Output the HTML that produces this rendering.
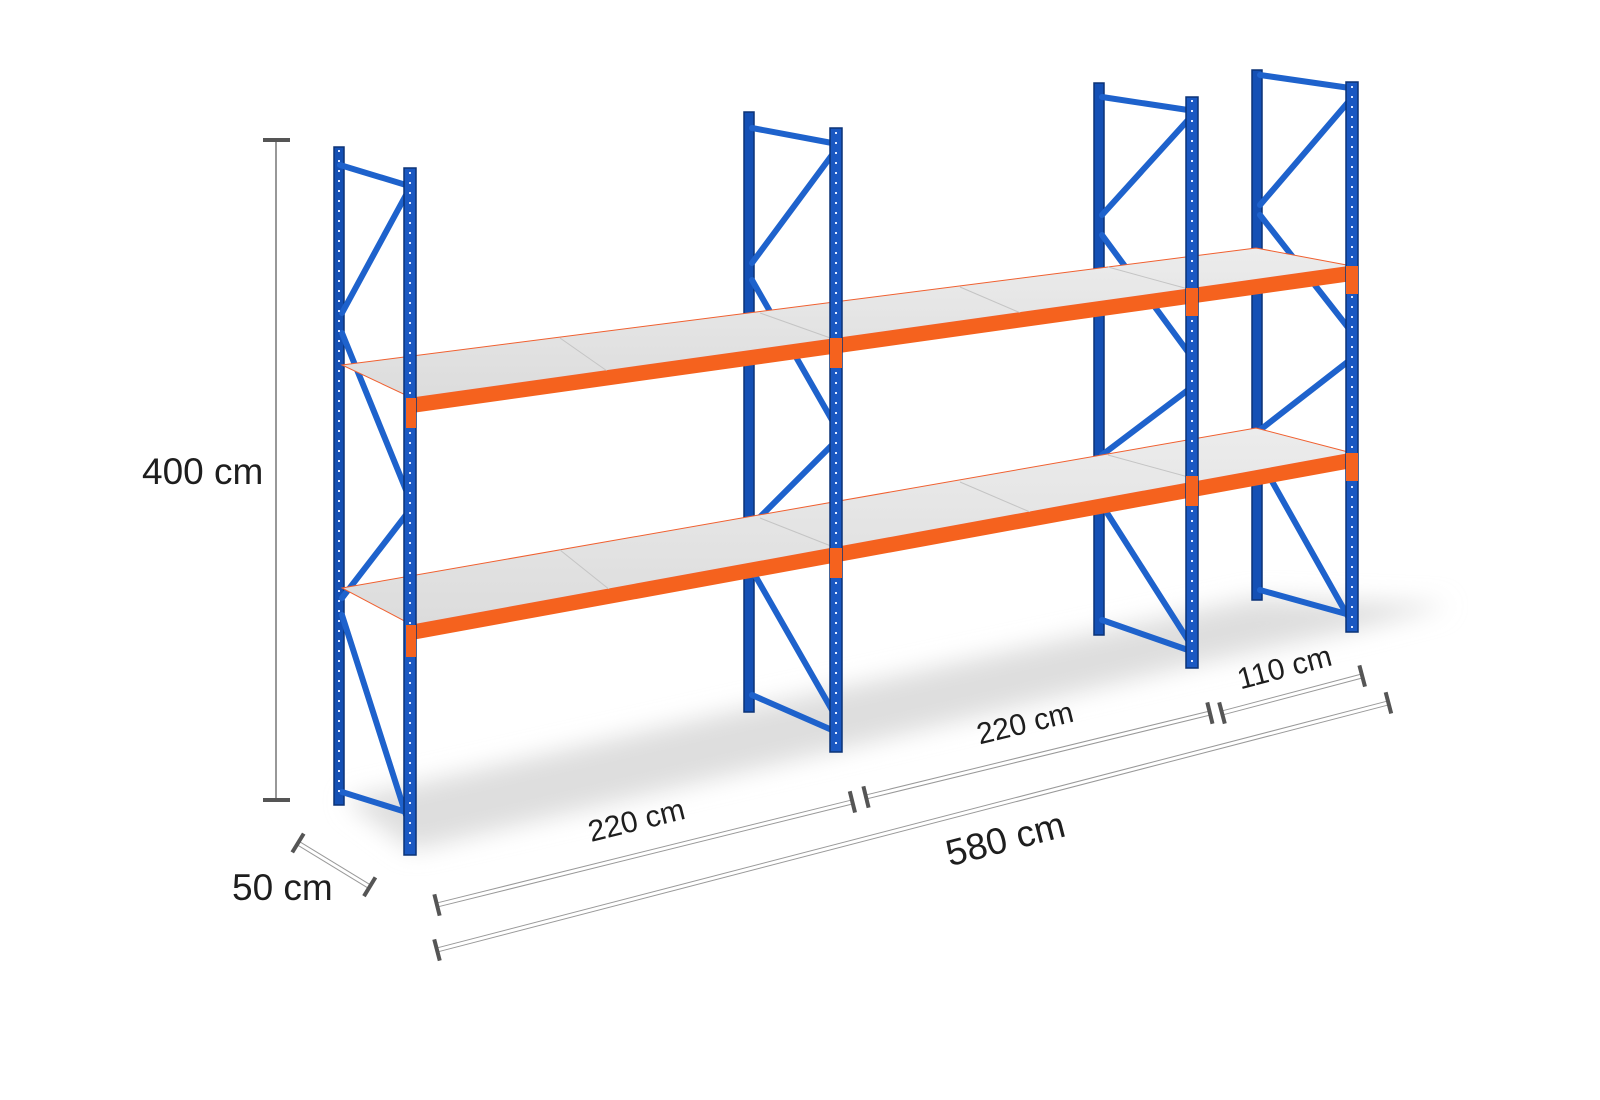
<!DOCTYPE html>
<html><head><meta charset="utf-8"><style>
html,body{margin:0;padding:0;background:#fff;}
svg{display:block;}
text{font-family:"Liberation Sans",sans-serif;fill:#1e1e1e;}
</style></head><body>
<svg width="1600" height="1100" viewBox="0 0 1600 1100" xmlns="http://www.w3.org/2000/svg">
<defs>
<filter id="bl" x="-10%" y="-30%" width="120%" height="160%"><feGaussianBlur stdDeviation="12"/></filter>
<linearGradient id="deck" x1="0" y1="0" x2="0" y2="1"><stop offset="0" stop-color="#ececec"/><stop offset="1" stop-color="#dcdcdc"/></linearGradient>
</defs>
<polygon points="345,800 412,850 836,750 1192,665 1352,630 1450,605 1256,598 1098,632 748,708" fill="#dedede" filter="url(#bl)"/>

<g fill="#1450b5" stroke="#0b3276" stroke-width="1.5">
<rect x="334" y="147" width="10" height="658"/>
<rect x="744" y="112" width="10" height="600"/>
<rect x="1094" y="83" width="10" height="552"/>
<rect x="1252" y="70" width="10" height="530"/>
</g>

<g stroke="#1e62cc" stroke-width="6" stroke-linecap="round" fill="none">
<path d="M340,165 L406,185 M406,195 L342,313 M342,333 L406,490 M406,515 L342,598 M342,615 L406,815 M342,792 L406,812"/>
<path d="M752,128 L832,143 M832,155 L752,263 M752,280 L832,420 M832,445 L752,525 M752,570 L832,710 M752,695 L832,730"/>
<path d="M1102,97 L1188,110 M1188,120 L1102,215 M1102,235 L1188,352 M1188,390 L1102,455 M1102,505 L1188,640 M1102,620 L1188,650"/>
<path d="M1260,75 L1350,88 M1350,100 L1260,205 M1260,215 L1350,330 M1350,360 L1260,430 M1260,460 L1350,620 M1260,590 L1350,615"/>
</g>

<polygon points="342,365 1256,248 1352,266 412,398" fill="url(#deck)" stroke="#f06030" stroke-width="1"/>
<polygon points="342,588 1256,428 1352,453 412,625" fill="url(#deck)" stroke="#f06030" stroke-width="1"/>
<g stroke="#c4c4c4" stroke-width="1">
<line x1="560" y1="338" x2="610" y2="373"/><line x1="760" y1="313" x2="836" y2="340"/><line x1="960" y1="287" x2="1030" y2="317"/><line x1="1108" y1="267" x2="1192" y2="290"/>
<line x1="560" y1="550" x2="610" y2="590"/><line x1="760" y1="518" x2="836" y2="548"/><line x1="960" y1="482" x2="1030" y2="512"/><line x1="1108" y1="455" x2="1192" y2="478"/>
</g>

<polygon points="412,398 1352,266 1352,281 412,413" fill="#f5621e"/>
<polygon points="412,625 1352,453 1352,468 412,640" fill="#f5621e"/>

<g fill="#1a58c2" stroke="#0b3276" stroke-width="1.5">
<rect x="404" y="168" width="12" height="687"/>
<rect x="830" y="128" width="12" height="624"/>
<rect x="1186" y="97" width="12" height="571"/>
<rect x="1346" y="82" width="12" height="550"/>
</g>
<g stroke="#dfe8ff" stroke-width="2" stroke-dasharray="2 8">
<line x1="339" y1="150" x2="339" y2="800"/>
<line x1="410" y1="172" x2="410" y2="850"/>
<line x1="836" y1="132" x2="836" y2="748"/>
<line x1="1192" y1="100" x2="1192" y2="664"/>
<line x1="1352" y1="86" x2="1352" y2="628"/>
</g>
<g fill="#f5621e">
<rect x="406" y="398" width="10" height="30"/><rect x="830" y="338" width="12" height="30"/><rect x="1186" y="288" width="12" height="28"/><rect x="1346" y="266" width="12" height="28"/>
<rect x="406" y="625" width="10" height="32"/><rect x="830" y="548" width="12" height="30"/><rect x="1186" y="476" width="12" height="30"/><rect x="1346" y="453" width="12" height="28"/>
</g>

<g stroke="#777">
<line x1="276" y1="140" x2="276" y2="800" stroke-width="1.5"/>
<line x1="263" y1="140" x2="290" y2="140" stroke="#555" stroke-width="4"/>
<line x1="263" y1="800" x2="290" y2="800" stroke="#555" stroke-width="4"/>
</g>
<text x="142" y="484" font-size="37">400 cm</text>

<g transform="translate(298,843) rotate(31.4)">
<line x1="0" y1="-2" x2="84" y2="-2" stroke="#999" stroke-width="1"/><line x1="0" y1="2" x2="84" y2="2" stroke="#999" stroke-width="1"/>
<rect x="-2" y="-11" width="4" height="22" fill="#555"/><rect x="82" y="-11" width="4" height="22" fill="#555"/>
</g>
<text x="232" y="900" font-size="37">50 cm</text>

<g transform="translate(437,905) rotate(-13.94)">
<line x1="0" y1="-2" x2="428" y2="-2" stroke="#999" stroke-width="1"/><line x1="0" y1="2" x2="428" y2="2" stroke="#999" stroke-width="1"/>
<rect x="-2" y="-11" width="4" height="22" fill="#555"/><rect x="426" y="-11" width="4" height="22" fill="#555"/>
<text x="214" y="-24" font-size="30" text-anchor="middle">220 cm</text>
</g>
<g transform="translate(866,797) rotate(-13.72)">
<line x1="0" y1="-2" x2="354" y2="-2" stroke="#999" stroke-width="1"/><line x1="0" y1="2" x2="354" y2="2" stroke="#999" stroke-width="1"/>
<rect x="-2" y="-11" width="4" height="22" fill="#555"/><rect x="352" y="-11" width="4" height="22" fill="#555"/>
<text x="172" y="-24" font-size="30" text-anchor="middle">220 cm</text>
</g>
<g transform="translate(1222,713) rotate(-14.8)">
<line x1="0" y1="-2" x2="145" y2="-2" stroke="#999" stroke-width="1"/><line x1="0" y1="2" x2="145" y2="2" stroke="#999" stroke-width="1"/>
<rect x="-2" y="-11" width="4" height="22" fill="#555"/><rect x="143" y="-11" width="4" height="22" fill="#555"/>
<text x="72" y="-18" font-size="30" text-anchor="middle">110 cm</text>
</g>
<g transform="translate(437,950) rotate(-14.56)">
<line x1="0" y1="-2" x2="983" y2="-2" stroke="#999" stroke-width="1"/><line x1="0" y1="2" x2="983" y2="2" stroke="#999" stroke-width="1"/>
<rect x="-2" y="-11" width="4" height="22" fill="#555"/><rect x="981" y="-11" width="4" height="22" fill="#555"/>
<text x="578" y="48" font-size="37" text-anchor="middle">580 cm</text>
</g>
</svg>
</body></html>
